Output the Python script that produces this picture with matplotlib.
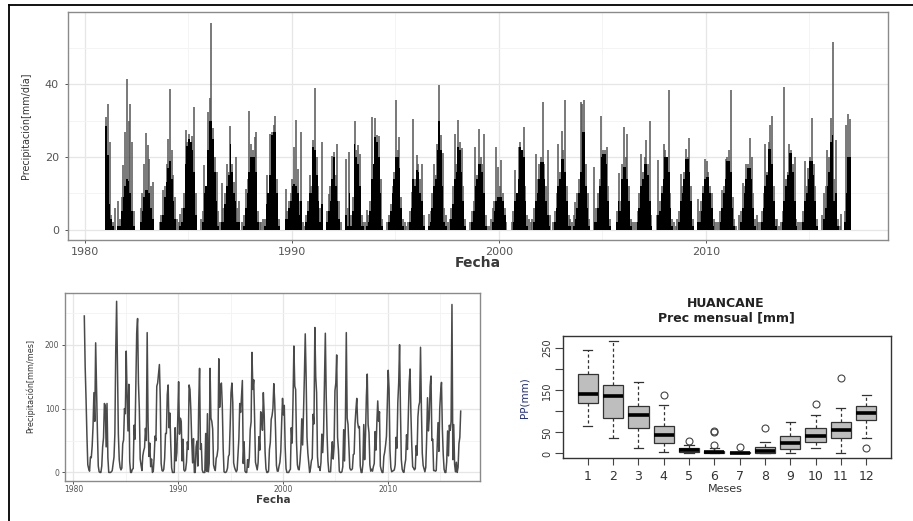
import matplotlib
matplotlib.use("Agg")
import matplotlib.pyplot as plt
from matplotlib.lines import Line2D
from matplotlib.ticker import FixedLocator

plt.rcParams['font.family'] = ['DejaVu Sans']

# ---------------- data ----------------
anios = list(range(1981, 2017))
meses = list(range(1, 13))

# monthly precipitation (mm/mes), one list per month, years 1981..2016
pp_ene = [245, 80, 105, 190, 190, 218, 219, 140, 137, 142, 137, 163, 163, 135, 125, 120, 188, 66,
          100, 90, 198, 150, 227, 218, 140, 219, 116, 154, 112, 160, 140, 140, 110, 135, 125, 80]
pp_feb = [165, 203, 40, 268, 120, 241, 80, 155, 70, 60, 130, 36, 85, 140, 140, 144, 130, 125,
          139, 105, 135, 217, 150, 120, 184, 85, 78, 75, 80, 130, 200, 162, 196, 151, 141, 263]
pp_mar = [115, 135, 108, 160, 65, 140, 25, 169, 93, 85, 98, 45, 80, 105, 110, 14, 145, 90,
          112, 40, 130, 150, 125, 58, 55, 75, 70, 62, 95, 35, 100, 91, 100, 50, 68, 20]
pp_abr = [58, 64, 23, 60, 138, 100, 46, 115, 44, 80, 50, 4, 68, 38, 15, 48, 85, 32,
          66, 6, 47, 55, 25, 18, 35, 40, 72, 12, 10, 8, 20, 42, 30, 52, 28, 75]
pp_may = [12, 10, 0, 20, 17, 21, 9, 14, 7, 18, 15, 0, 12, 1, 8, 2, 16, 6,
          11, 0, 12, 30, 8, 1, 2, 7, 10, 2, 4, 1, 5, 9, 11, 3, 5, 13]
pp_jun = [6, 1, 0, 8, 0, 11, 21, 3, 0, 52, 53, 0, 6, 0, 4, 0, 10, 0,
          2, 0, 5, 14, 9, 1, 0, 4, 0, 5, 0, 2, 1, 7, 6, 3, 0, 1]
pp_jul = [2, 0, 0, 4, 0, 3, 0, 2, 0, 4, 0, 0, 3, 0, 1, 0, 4, 0,
          2, 0, 4, 0, 3, 1, 0, 4, 0, 2, 0, 3, 0, 4, 1, 2, 0, 16]
pp_ago = [24, 0, 1, 7, 5, 26, 2, 5, 0, 2, 0, 61, 22, 2, 4, 20, 15, 2,
          10, 3, 18, 6, 16, 28, 1, 6, 13, 9, 25, 4, 12, 6, 8, 3, 17, 0]
pp_sep = [23, 10, 3, 45, 6, 34, 24, 22, 70, 4, 40, 2, 26, 7, 30, 8, 56, 36,
          16, 5, 39, 18, 60, 48, 9, 28, 75, 14, 32, 12, 20, 42, 52, 38, 65, 8]
pp_oct = [41, 40, 14, 51, 74, 39, 57, 61, 18, 16, 49, 92, 37, 25, 53, 24, 35, 47,
          33, 70, 84, 22, 31, 21, 67, 29, 20, 64, 43, 55, 59, 27, 117, 78, 26, 45]
pp_nov = [72, 54, 24, 100, 52, 69, 50, 61, 31, 48, 10, 1, 178, 28, 108, 67, 95, 83,
          79, 46, 43, 91, 63, 40, 18, 76, 59, 35, 57, 38, 36, 87, 65, 33, 74, 55]
pp_dic = [125, 108, 60, 92, 131, 50, 135, 122, 83, 36, 106, 14, 102, 72, 94, 79, 90, 89,
          116, 113, 93, 76, 139, 128, 81, 98, 119, 78, 111, 110, 87, 104, 85, 100, 66, 96]

# daily precipitation (mm/dia): highest day of each month, per year
max_diaria = [
    [31, 34.5, 24, 4, 2, 6, 0, 8, 3, 9, 17.7, 27],
    [41.5, 30, 34.5, 24, 5, 0, 0, 0, 6, 10, 18, 26.6],
    [23.2, 19.5, 12, 13, 0, 0, 0, 2, 4, 10.8, 12, 18],
    [25, 38.8, 22, 15, 9, 3, 2, 4.4, 6, 10, 27.5, 24],
    [26.2, 24, 25.9, 33.8, 10, 0, 0, 3, 5, 17.9, 12, 32.4],
    [36.3, 57, 28, 20, 15.9, 5, 2, 12.8, 6, 10, 18.2, 16],
    [28.4, 18, 13, 20, 6, 8, 0, 2, 4, 11.3, 14, 32.6],
    [23.7, 22, 25.5, 26.9, 5, 2, 2, 3, 3, 15.1, 10, 26.4],
    [27, 28.7, 31.3, 14, 3, 0, 0, 0, 11.3, 5, 8, 10],
    [14, 22.8, 30.3, 16.6, 8, 26.9, 2, 1, 4, 8, 15, 12],
    [24.6, 39, 20, 12, 6, 24.1, 0, 0, 5, 9.7, 12, 20.2],
    [21.4, 15, 23.5, 8, 2, 0, 0, 19.5, 6, 21.4, 4, 9],
    [29.9, 22, 23.2, 20.7, 4, 2, 2, 5.3, 4, 8, 31, 15],
    [30.8, 26, 25.9, 14, 3, 0, 0, 2, 4, 7, 12, 16],
    [35.8, 22, 25.5, 9, 3, 2, 1, 2, 5, 10.3, 30.5, 14],
    [20.5, 18, 14, 18.2, 4, 0, 0, 4.4, 5, 10, 18.2, 15],
    [23.7, 39.7, 26, 21.1, 6, 4, 2, 3, 6, 12, 26.4, 18],
    [30.1, 24, 22.4, 12, 3, 0, 0, 2, 5, 8, 22.8, 15],
    [27.8, 20, 18, 26.4, 4, 1, 1, 3, 6, 8, 22.8, 17.2],
    [12, 19.3, 10, 6, 2, 0, 0, 2, 5, 16.3, 10, 22.8],
    [24, 22, 28.2, 12, 4, 3, 2, 3, 6, 20.8, 14, 18],
    [20, 35.1, 18, 12, 22, 4, 0, 2, 5, 10, 23.5, 16],
    [27.2, 22, 35.6, 12, 4, 3, 2, 4, 7.6, 10, 14, 35.1],
    [34.5, 35.6, 18, 10, 3, 0, 0, 17.2, 6, 10, 14, 31.3],
    [22, 22, 22.8, 12, 3, 0, 0, 0, 5, 15.6, 8, 18],
    [28.2, 20, 26.4, 12, 3, 2, 2, 2, 5, 10, 20.9, 16],
    [20, 24.6, 18, 30, 4, 0, 0, 4, 19.1, 8, 12, 23.5],
    [22, 20, 38.5, 10, 3, 2, 1, 3, 5, 15.3, 12, 16],
    [22.3, 20, 25.1, 12, 3, 0, 0, 8.4, 5, 8, 12, 19.5],
    [19, 16, 12, 10, 3, 2, 2, 2, 5, 10.8, 12, 19.5],
    [20, 22, 38.5, 9, 3, 1, 0, 4, 5, 12.8, 12, 18.2],
    [18, 25.1, 20, 10, 3, 4, 2, 2, 5, 10, 23.7, 16],
    [24, 28.7, 31.3, 12, 3, 3, 1, 2, 5, 39.3, 14, 16],
    [23.5, 22, 18, 20, 3, 2, 2, 2, 5, 19, 12, 17],
    [20, 30.7, 18, 12, 3, 0, 0, 4, 10, 12, 22, 20],
    [30.7, 51.7, 14, 24.6, 3, 1, 4.4, 0, 5, 28.7, 31.9, 30.5],
]
# daily precipitation (mm/dia): level reached by the bulk of rainy days, per month
base_diaria = [
    [28.5, 20.5, 7, 3, 1, 0, 0, 1, 1, 5, 9, 12],
    [14, 13.5, 10, 5, 1, 0, 0, 0, 2, 5, 9, 11],
    [11, 10, 6, 3, 0, 0, 0, 0, 2, 4, 9, 13],
    [17, 19, 14, 8, 3, 0, 0, 1, 2, 6, 18, 23],
    [25, 24, 22, 16, 4, 0, 0, 0, 2, 10, 12, 22],
    [30, 30, 25, 16, 8, 1, 0, 2, 2, 7, 12, 15],
    [23.7, 16, 10, 8, 2, 2, 0, 0, 1, 6, 10, 16],
    [20, 20, 20, 16, 2, 0, 0, 0, 1, 7, 10, 15],
    [26, 27, 27, 10, 1, 0, 0, 0, 3, 3, 6, 8],
    [12, 12.6, 12, 10, 4, 8, 0, 0, 2, 5, 10, 10],
    [22.8, 22, 15, 8, 2, 7, 0, 0, 2, 5, 8, 14],
    [20, 12, 8, 3, 0, 0, 0, 4, 1, 10, 1, 5],
    [23.7, 20, 18, 12, 1, 1, 0, 1, 2, 5, 14, 18],
    [25.5, 24, 20, 10, 1, 0, 0, 0, 2, 5, 10, 14],
    [20, 20, 17, 6, 1, 0, 0, 0, 2, 6, 14, 12],
    [16.3, 16, 10, 8, 1, 0, 0, 1, 2, 6, 12, 14],
    [22, 30, 22, 12, 2, 1, 0, 0, 3, 7, 14, 16],
    [22.8, 22, 16, 8, 1, 0, 0, 0, 2, 5, 12, 14],
    [18.2, 18, 16, 10, 1, 0, 0, 0, 2, 5, 8, 9],
    [9, 9, 8, 4, 0, 0, 0, 0, 2, 8, 10, 14],
    [22.8, 22, 20, 8, 1, 0, 0, 0, 2, 8, 10, 14],
    [18.7, 18.7, 14, 8, 4, 1, 0, 0, 2, 6, 12, 14],
    [19.5, 19.5, 16, 8, 1, 1, 0, 1, 3, 6, 10, 16],
    [27, 27, 12, 6, 1, 0, 0, 2, 2, 6, 12, 20],
    [20.9, 20.9, 18, 8, 1, 0, 0, 0, 2, 8, 5, 14],
    [17.2, 17.2, 14, 8, 1, 0, 0, 0, 2, 6, 12, 14],
    [18, 18, 15, 8, 1, 0, 0, 0, 4, 5, 10, 14],
    [20, 20, 16, 6, 1, 0, 0, 0, 2, 8, 10, 14],
    [19.5, 19.5, 16, 8, 1, 0, 0, 2, 2, 5, 10, 14],
    [14.5, 14.5, 10, 6, 1, 0, 0, 0, 2, 6, 10, 14],
    [19, 19, 16, 6, 1, 0, 0, 0, 2, 6, 10, 14],
    [17, 17, 14, 6, 1, 0, 0, 0, 2, 6, 12, 15],
    [22.3, 22.3, 18, 8, 1, 0, 0, 0, 2, 8, 12, 15],
    [21, 21, 16, 8, 1, 0, 0, 0, 2, 8, 10, 14],
    [19, 19, 15, 8, 1, 0, 0, 0, 3, 6, 12, 16],
    [24, 26, 8, 10, 1, 0, 0, 0, 2, 10, 20, 20],
]

x_ticks = [1980, 1990, 2000, 2010]
x_minor = [1985, 1995, 2005, 2015]
y_ticks_diaria = [0, 20, 40]
y_minor_diaria = [10, 30, 50]
y_ticks_mensual = [0, 100, 200]
y_minor_mensual = [50, 150, 250]
box_yticks = [0, 50, 100, 150, 200, 250]
box_ylabels = ['0', '50', '', '150', '', '250']

titulo_box = "HUANCANE\nPrec mensual [mm]"

# ---------------- derived series ----------------
pp_por_mes = [pp_ene, pp_feb, pp_mar, pp_abr, pp_may, pp_jun,
              pp_jul, pp_ago, pp_sep, pp_oct, pp_nov, pp_dic]
fechas = []
serie_mensual = []
d_max = []
d_base = []
for i, a in enumerate(anios):
    for m in range(12):
        fechas.append(a + (m + 0.5) / 12.0)
        serie_mensual.append(pp_por_mes[m][i])
        d_max.append(max_diaria[i][m])
        d_base.append(base_diaria[i][m])

W, H = 913, 521
fig = plt.figure(figsize=(W / 100, H / 100), dpi=100)


def fx(px):
    return px / W


def fy(py):
    return 1 - py / H


# outer frame (top and left edges)
fig.add_artist(Line2D([fx(9), fx(9)], [0, fy(5)], transform=fig.transFigure, color='black', lw=1.3))
fig.add_artist(Line2D([fx(9), 1], [fy(5), fy(5)], transform=fig.transFigure, color='black', lw=1.3))


def estilo_bw(ax, ymaj, ymin, fs, pad):
    ax.set_facecolor('white')
    for s in ax.spines.values():
        s.set_color('#8A8A8A')
        s.set_linewidth(1.0)
    ax.xaxis.set_major_locator(FixedLocator(x_ticks))
    ax.xaxis.set_minor_locator(FixedLocator(x_minor))
    ax.yaxis.set_major_locator(FixedLocator(ymaj))
    ax.yaxis.set_minor_locator(FixedLocator(ymin))
    ax.grid(which='major', color='#E6E6E6', lw=0.9)
    ax.grid(which='minor', color='#F3F3F3', lw=0.6)
    ax.set_axisbelow(True)
    ax.tick_params(which='major', length=2.5, width=0.7, color='#555555',
                   labelcolor='#555555', labelsize=fs, pad=pad)
    ax.tick_params(which='minor', length=0)


# ---------------- top: daily ----------------
ax1 = fig.add_axes([fx(68), fy(240), fx(888) - fx(68), fy(12) - fy(240)])
ax1.vlines(fechas, 0, d_max, color='#555555', lw=1.1, zorder=2)
ax1.bar(fechas, d_base, width=1 / 12.0, color='black', linewidth=0, zorder=3)
ax1.set_xlim(1979.2, 2018.8)
ax1.set_ylim(-2.85, 59.9)
estilo_bw(ax1, y_ticks_diaria, y_minor_diaria, 8, 2.5)
ax1.tick_params(axis='y', pad=4)
fig.text(fx(26), fy(126), 'Precipitación[mm/día]', rotation=90, ha='center', va='center',
         fontsize=6.9, color='#333333')
fig.text(fx(478), fy(263), 'Fecha', ha='center', va='center', fontsize=10,
         fontweight='bold', color='#3a3a3a')

# ---------------- bottom left: monthly ----------------
ax2 = fig.add_axes([fx(65), fy(481), fx(480) - fx(65), fy(293) - fy(481)])
ax2.plot(fechas, serie_mensual, color='#4a4a4a', lw=1.1, zorder=3)
ax2.set_xlim(1979.2, 2018.8)
ax2.set_ylim(-13.4, 281)
estilo_bw(ax2, y_ticks_mensual, y_minor_mensual, 5.5, 0.5)
ax2.tick_params(axis='y', pad=1.5)
fig.text(fx(30), fy(386), 'Precipitación[mm/mes]', rotation=90, ha='center', va='center',
         fontsize=5.8, color='#333333')
fig.text(fx(273), fy(500), 'Fecha', ha='center', va='center', fontsize=7.5,
         fontweight='bold', color='#3a3a3a')

# ---------------- bottom right: boxplot ----------------
ax3 = fig.add_axes([fx(563), fy(458), fx(891) - fx(563), fy(336) - fy(458)])
ax3.boxplot(pp_por_mes, positions=meses, widths=0.8, patch_artist=True, whis=1.5,
            capwidths=0.36,
            boxprops=dict(facecolor='#BEBEBE', edgecolor='#333333', linewidth=0.9),
            medianprops=dict(color='black', linewidth=2.6),
            whiskerprops=dict(color='#333333', linewidth=0.9, linestyle=(0, (2.5, 2))),
            capprops=dict(color='#333333', linewidth=0.9),
            flierprops=dict(marker='o', markerfacecolor='none', markeredgecolor='#444444',
                            markersize=5, markeredgewidth=0.8))
ax3.set_xlim(0.02, 12.98)
ax3.set_ylim(-10.7, 278.7)
ax3.set_xticks(meses)
ax3.set_xticklabels([str(m) for m in meses])
ax3.set_yticks(box_yticks)
ax3.set_yticklabels(box_ylabels, rotation=90, va='center')
for s in ax3.spines.values():
    s.set_color('#333333')
    s.set_linewidth(1.0)
ax3.tick_params(axis='x', length=5, width=0.8, color='#444444', labelsize=9,
                labelcolor='#333333', pad=4)
ax3.tick_params(axis='y', length=6, width=0.8, color='#444444', labelsize=7,
                labelcolor='#333333', pad=2)
fig.text(fx(726), fy(311), titulo_box, ha='center', va='center', fontsize=9,
         fontweight='bold', color='#222222', linespacing=1.15)
fig.text(fx(525), fy(398), 'PP(mm)', rotation=90, ha='center', va='center',
         fontsize=7.5, color='#22307a')
fig.text(fx(725), fy(489), 'Meses', ha='center', va='center', fontsize=8, color='#333333')

fig.savefig('out.png', dpi=100)
